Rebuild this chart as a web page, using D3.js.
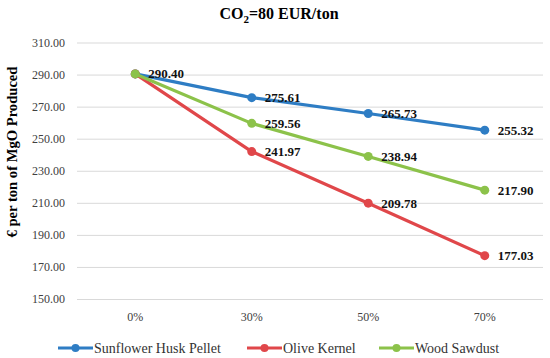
<!DOCTYPE html>
<html>
<head>
<meta charset="utf-8">
<script src="https://cdn.jsdelivr.net/npm/d3@7"></script>
<style>
  body { margin: 0; background: #fff; }
  text { font-family: "Liberation Serif", "DejaVu Serif", serif; }
</style>
</head>
<body>
<div id="chart"></div>
<script>
// CO2=80 EUR/ton, cost per ton of MgO
const categories = ["0%", "30%", "50%", "70%"]
const sunflower = [290.40, 275.61, 265.73, 255.32]
const olive = [290.40, 241.97, 209.78, 177.03]
const wood = [290.40, 259.56, 238.94, 217.90]
const yTicks = [150, 170, 190, 210, 230, 250, 270, 290, 310]

const series = [
  { name: "Sunflower Husk Pellet", values: sunflower, color: "#2E7DC4" },
  { name: "Olive Kernel", values: olive, color: "#E0474A" },
  { name: "Wood Sawdust", values: wood, color: "#8CC24A" }
]

const W = 550, H = 358
const svg = d3.select("#chart").append("svg")
  .attr("width", W).attr("height", H)

// scales
let x = d3.scaleBand()
  .domain(categories)
  .range([77, 543])
let y = d3.scaleLinear()
  .domain([150, 310])
  .range([299, 42.5])
const cx = d => x(d) + x.bandwidth() / 2

// grid + y labels
svg.append("g")
  .attr("transform", "translate(77,0)")
  .call(d3.axisLeft(y).tickValues(yTicks).tickSize(-466).tickPadding(12).tickFormat(d3.format(".2f")))
  .call(g => g.select(".domain").remove())
  .call(g => g.selectAll(".tick line").attr("stroke", "#d9d9d9").attr("stroke-width", 1))
  .call(g => g.selectAll(".tick text").attr("fill", "#404040").style("font-size", "12px")
    .style("font-family", "'Liberation Serif', serif"))

// x labels
svg.append("g")
  .attr("transform", "translate(0,299)")
  .call(d3.axisBottom(x).tickSize(0).tickPadding(13))
  .call(g => g.select(".domain").remove())
  .call(g => g.selectAll(".tick text").attr("fill", "#404040").style("font-size", "12px")
    .style("font-family", "'Liberation Serif', serif"))

// title
let title = svg.append("text")
  .attr("x", 279).attr("y", 19)
  .attr("text-anchor", "middle")
  .style("font-size", "16px").style("font-weight", "bold")
title.append("tspan").text("CO")
title.append("tspan").text("2").attr("dy", 4).style("font-size", "11px")
title.append("tspan").text("=80 EUR/ton").attr("dy", -4)

// y axis title
svg.append("text")
  .attr("transform", "translate(17,152) rotate(-90)")
  .attr("text-anchor", "middle")
  .style("font-size", "14.6px").style("font-weight", "bold")
  .text("€ per ton of MgO Produced")

// lines and markers
const line = d3.line()
  .x((d, i) => cx(categories[i]))
  .y(d => y(d))

series.forEach(s => {
  svg.append("path")
    .datum(s.values)
    .attr("d", line)
    .attr("fill", "none")
    .attr("stroke", s.color)
    .attr("stroke-width", 3.2)
    .attr("stroke-linejoin", "round")
  svg.append("g").selectAll("circle")
    .data(s.values)
    .join("circle")
    .attr("cx", (d, i) => cx(categories[i]))
    .attr("cy", d => y(d))
    .attr("r", 4.5)
    .attr("fill", s.color)
})

// data labels (the shared 0% value only once)
series.forEach((s, k) => {
  svg.append("g").selectAll("text")
    .data(s.values.map((v, i) => ({ v, i })).filter(d => d.i > 0 || k === 0))
    .join("text")
    .attr("x", d => cx(categories[d.i]) + 13)
    .attr("y", d => y(d.v) + 4.5)
    .style("font-size", "13px").style("font-weight", "bold")
    .attr("fill", "#111")
    .text(d => d.v.toFixed(2))
})

// legend
const legendX = [58, 247, 379]
series.forEach((s, k) => {
  let g = svg.append("g").attr("transform", `translate(${legendX[k]},348)`)
  g.append("line").attr("x1", 0).attr("x2", 35).attr("y1", 0).attr("y2", 0)
    .attr("stroke", s.color).attr("stroke-width", 3.2)
  g.append("circle").attr("cx", 17.5).attr("cy", 0).attr("r", 4).attr("fill", s.color)
  g.append("text").attr("x", 36).attr("y", 4.5)
    .style("font-size", "14px").attr("fill", "#333")
    .text(s.name)
})
</script>
</body>
</html>
